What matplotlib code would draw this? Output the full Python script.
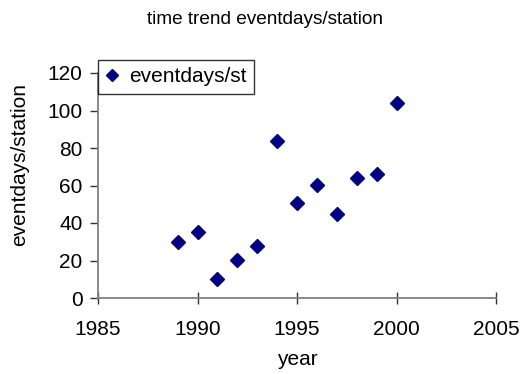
import matplotlib
matplotlib.use("Agg")
import matplotlib.pyplot as plt

years = [1989, 1990, 1991, 1992, 1993, 1994, 1995, 1996, 1997, 1998, 1999, 2000]
values = [30, 35, 10, 20.5, 28, 83.5, 50.5, 60.5, 45, 64, 66, 104]
series_name = "eventdays/st"
title = "time trend eventdays/station"
xlabel = "year"
ylabel = "eventdays/station"
xticks = [1985, 1990, 1995, 2000, 2005]
yticks = [0, 20, 40, 60, 80, 100, 120]

plt.rcParams['font.family'] = ['Liberation Sans', 'DejaVu Sans']
FS = 15

fig = plt.figure(figsize=(5.2, 3.74), dpi=100)
ax = fig.add_axes([98/520, 1 - 298/374, (496 - 98)/520, (298 - 73)/374])

ax.plot(years, values, linestyle='none', marker='D', markersize=6.8,
        color='#000080', markeredgecolor='#000080', label=series_name)

ax.set_xlim(1985, 2005)
ax.set_ylim(0, 120)
ax.set_xticks(xticks)
ax.set_yticks(yticks)
ax.tick_params(axis='both', labelsize=FS, direction='out', length=6, width=1, color='#333333')
ax.tick_params(axis='x', direction='inout', length=8, pad=12)
ax.tick_params(axis='y', pad=5)
for s in ['top', 'right']:
    ax.spines[s].set_visible(False)
for s in ['left', 'bottom']:
    ax.spines[s].set_color('#808080')
    ax.spines[s].set_linewidth(1.3)

ax.set_xlabel(xlabel, fontsize=FS, labelpad=8)
fig.text(20/520, 1 - 164/374, ylabel, fontsize=FS, rotation=90, ha='center', va='center')
fig.text(265/520, 1 - 19/374, title, fontsize=13.7, ha='center', va='center')

leg = ax.legend(loc='upper left', bbox_to_anchor=(98/520, 1 - 60/374),
                bbox_transform=fig.transFigure, borderaxespad=0, fontsize=FS,
                frameon=True, fancybox=False, handlelength=0.6, handletextpad=0.55,
                borderpad=0.35, markerscale=0.95)
leg.get_frame().set_edgecolor('black')
leg.get_frame().set_linewidth(1.0)

fig.savefig('out.png', dpi=100)
